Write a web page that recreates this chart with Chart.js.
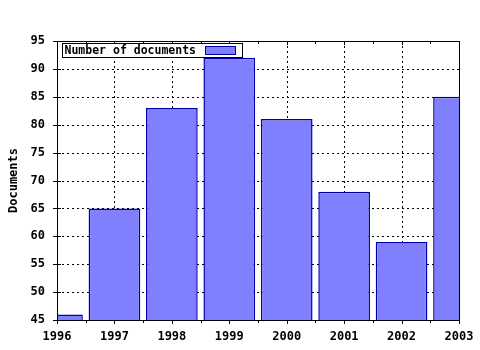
<!DOCTYPE html>
<html>
<head>
<meta charset="utf-8">
<script src="https://cdn.jsdelivr.net/npm/chart.js@4"></script>
<style>
  html, body { margin: 0; padding: 0; background: #ffffff; }
  #wrap { width: 480px; height: 350px; }
</style>
</head>
<body>
<div id="wrap"><canvas id="c" width="480" height="350"></canvas></div>
<script>
const years = ['1996', '1997', '1998', '1999', '2000', '2001', '2002', '2003'];
const documents = [46, 65, 83, 92, 81, 68, 59, 85];
const seriesLabel = 'Number of documents';
const yTitle = 'Documents';
const yMin = 45, yMax = 95, yStep = 5;

const FONT = "'DejaVu Sans Mono', 'Liberation Mono', monospace";
const BAR_FILL = '#8080ff';
const BAR_EDGE = '#0000aa';

const gridPlugin = {
  id: 'dotgrid',
  beforeDatasetsDraw(chart) {
    const ctx = chart.ctx;
    const a = chart.chartArea;
    const xs = chart.scales.x;
    const ys = chart.scales.y;
    ctx.save();
    ctx.strokeStyle = '#000';
    ctx.lineWidth = 1;
    ctx.setLineDash([2, 3]);
    ctx.beginPath();
    for (let i = 1; i < years.length - 1; i++) {
      const px = Math.round(xs.getPixelForValue(i)) + 0.5;
      ctx.moveTo(px, a.top); ctx.lineTo(px, a.bottom);
    }
    for (let v = yMin + yStep; v < yMax; v += yStep) {
      const py = Math.round(ys.getPixelForValue(v)) + 0.5;
      ctx.moveTo(a.left, py); ctx.lineTo(a.right, py);
    }
    ctx.stroke();
    ctx.restore();
  }
};

const framePlugin = {
  id: 'frame',
  afterDraw(chart) {
    const ctx = chart.ctx;
    const a = chart.chartArea;
    const xs = chart.scales.x;
    const ys = chart.scales.y;
    ctx.save();
    ctx.strokeStyle = '#000';
    ctx.lineWidth = 1;
    ctx.setLineDash([]);
    ctx.strokeRect(Math.round(a.left) + 0.5, Math.round(a.top) + 0.5,
                   Math.round(a.right - a.left), Math.round(a.bottom - a.top));
    ctx.beginPath();
    for (let i = 0; i < years.length; i++) {
      const px = Math.round(xs.getPixelForValue(i)) + 0.5;
      ctx.moveTo(px, a.bottom); ctx.lineTo(px, a.bottom + 4);
      ctx.moveTo(px, a.top); ctx.lineTo(px, a.top + 4);
      if (i < years.length - 1) {
        const mx = Math.round((xs.getPixelForValue(i) + xs.getPixelForValue(i + 1)) / 2) + 0.5;
        ctx.moveTo(mx, a.bottom); ctx.lineTo(mx, a.bottom + 3);
        ctx.moveTo(mx, a.top); ctx.lineTo(mx, a.top + 3);
      }
    }
    for (let v = yMin; v <= yMax; v += yStep) {
      const py = Math.round(ys.getPixelForValue(v)) + 0.5;
      ctx.moveTo(a.left - 4, py); ctx.lineTo(a.left + 4, py);
    }
    ctx.stroke();

    // legend box
    const bx = Math.round(a.left) + 5.5, by = Math.round(a.top) + 2.5;
    const bw = 180, bh = 14;
    ctx.fillStyle = '#fff';
    ctx.fillRect(bx, by, bw, bh);
    ctx.strokeRect(bx, by, bw, bh);
    ctx.fillStyle = '#000';
    ctx.font = 'bold 11.5px ' + FONT;
    ctx.textBaseline = 'middle';
    ctx.textAlign = 'left';
    ctx.fillText(seriesLabel, bx + 2, by + bh / 2 + 0.5);
    ctx.fillStyle = BAR_FILL;
    ctx.fillRect(bx + 143, by + 3, 30, 8);
    ctx.strokeStyle = BAR_EDGE;
    ctx.strokeRect(bx + 143, by + 3, 30, 8);
    ctx.restore();
  }
};

new Chart(document.getElementById('c'), {
  type: 'bar',
  data: {
    labels: years,
    datasets: [{
      label: seriesLabel,
      data: documents,
      backgroundColor: BAR_FILL,
      borderColor: BAR_EDGE,
      borderWidth: 1.5,
      borderSkipped: false,
      barPercentage: 0.9,
      categoryPercentage: 1.0,
      clip: 0
    }]
  },
  options: {
    responsive: false,
    animation: false,
    devicePixelRatio: 1,
    layout: { padding: { left: 0, right: 21, top: 41, bottom: 0 } },
    plugins: {
      legend: { display: false },
      tooltip: { enabled: false },
      title: { display: false }
    },
    scales: {
      x: {
        type: 'category',
        offset: false,
        afterFit(s) { s.height = 30; s.paddingLeft = 0; s.paddingRight = 0; },
        grid: { display: false, drawTicks: false },
        border: { display: false },
        ticks: {
          color: '#000',
          font: { family: FONT, size: 12, weight: 'bold' },
          padding: 10,
          maxRotation: 0,
          autoSkip: false
        }
      },
      y: {
        type: 'linear',
        min: yMin,
        max: yMax,
        afterFit(s) { s.width = 57; s.paddingTop = 0; s.paddingBottom = 0; },
        grid: { display: false, drawTicks: false },
        border: { display: false },
        ticks: {
          stepSize: yStep,
          color: '#000',
          font: { family: FONT, size: 12, weight: 'bold' },
          padding: 12
        },
        title: {
          display: true,
          text: yTitle,
          color: '#000',
          font: { family: FONT, size: 12, weight: 'bold' },
          padding: { top: 7, bottom: 0 }
        }
      }
    }
  },
  plugins: [gridPlugin, framePlugin]
});
</script>
</body>
</html>
